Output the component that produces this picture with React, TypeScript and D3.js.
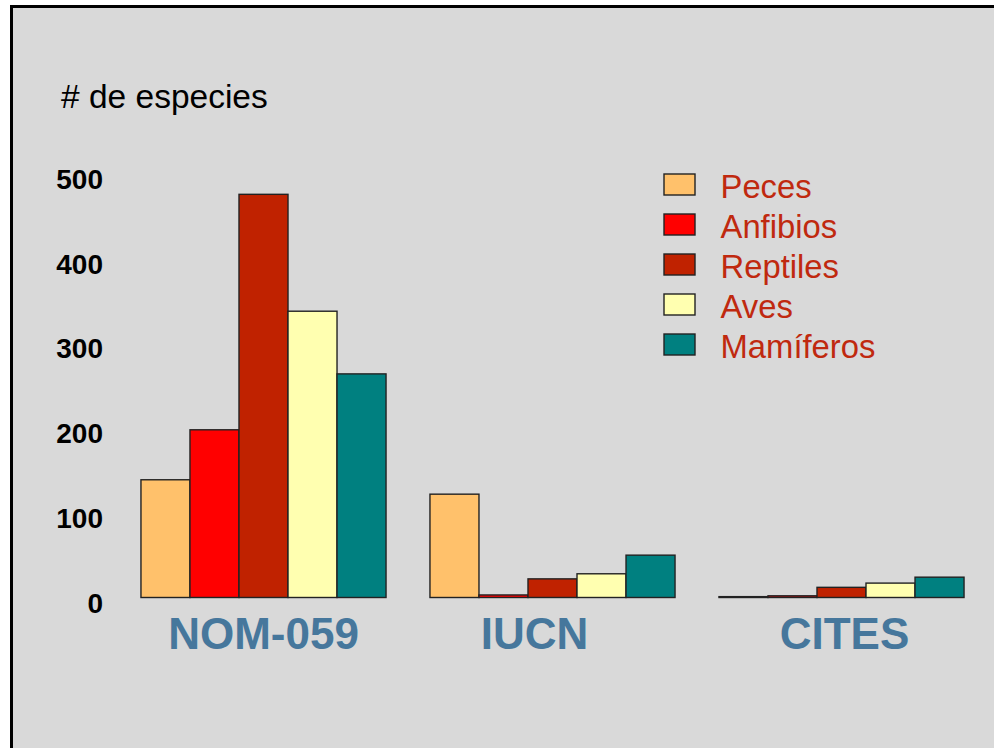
import React from "react";
import * as d3 from "d3";

const categories = ["NOM-059", "IUCN", "CITES"];
const seriesNames = ["Peces", "Anfibios", "Reptiles", "Aves", "Mamíferos"];
const nomValues = [139, 198, 476, 338, 264];
const iucnValues = [122, 3, 22, 28, 50];
const citesValues = [1, 2, 12, 17, 24];
const yTicks = [0, 100, 200, 300, 400, 500];

const seriesColors = ["#FFC16B", "#FF0000", "#C02200", "#FFFFB0", "#008080"];
const labelOffsets = [0, -18, 3];

const W = 994;
const H = 748;

export default function App() {
  const valuesByCat = [nomValues, iucnValues, citesValues];
  const x0 = d3
    .scaleBand<string>()
    .domain(categories)
    .range([119, 986])
    .paddingInner(0.152)
    .paddingOuter(0.076);
  const x1 = d3
    .scaleBand<string>()
    .domain(seriesNames)
    .range([0, x0.bandwidth()])
    .padding(0);
  const y = d3.scaleLinear().domain([0, 500]).range([597.5, 174]);

  return (
    <svg
      width={W}
      height={H}
      style={{ position: "absolute", left: 0, top: 0, fontFamily: "Arial, 'Liberation Sans', sans-serif" }}
    >
      <rect x={0} y={0} width={W} height={H} fill="#ffffff" />
      <rect x={11.5} y={6.5} width={1200} height={1000} fill="#D9D9D9" stroke="#000" strokeWidth={3} />

      <text x={61} y={108} fontSize={33.5} fill="#000">
        # de especies
      </text>

      {yTicks.map((t) => (
        <text key={t} x={103} y={y(t) + 15} fontSize={28} fontWeight="bold" textAnchor="end" fill="#000">
          {t}
        </text>
      ))}

      {categories.map((c, ci) => (
        <g key={c} transform={`translate(${x0(c)},0)`}>
          {seriesNames.map((s, si) => {
            const v = valuesByCat[ci][si];
            return (
              <rect
                key={s}
                x={x1(s)}
                y={y(v)}
                width={x1.bandwidth()}
                height={y(0) - y(v)}
                fill={seriesColors[si]}
                stroke="#222"
                strokeWidth={1.4}
              />
            );
          })}
        </g>
      ))}

      {categories.map((c, ci) => (
        <text
          key={c}
          x={(x0(c) as number) + x0.bandwidth() / 2 + labelOffsets[ci]}
          y={649}
          fontSize={44}
          fontWeight="bold"
          textAnchor="middle"
          fill="#46779C"
        >
          {c}
        </text>
      ))}

      {seriesNames.map((s, si) => (
        <g key={s} transform={`translate(664,${174 + si * 40})`}>
          <rect x={0} y={0} width={31} height={21} fill={seriesColors[si]} stroke="#222" strokeWidth={1.4} />
          <text x={56.5} y={24} fontSize={32.8} fill="#C0290F">
            {s}
          </text>
        </g>
      ))}
    </svg>
  );
}
